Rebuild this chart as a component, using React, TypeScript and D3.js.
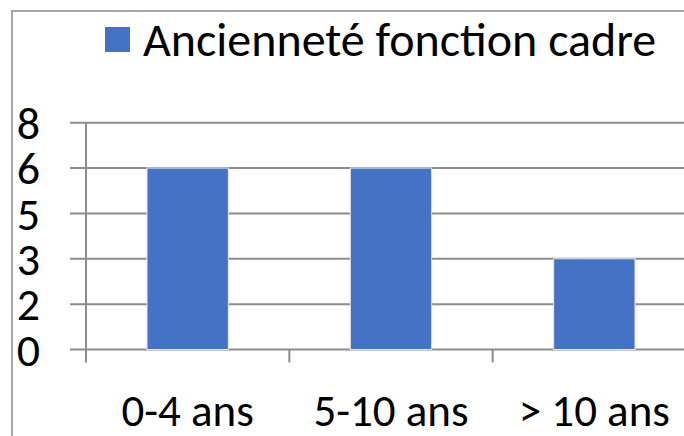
import React, { useRef, useEffect } from "react";
import * as d3 from "d3";

const categories = ["0-4 ans", "5-10 ans", "> 10 ans"];
const values = [6, 6, 3];
const yTicks = [0, 1.5, 3, 4.5, 6, 7.5];
const seriesName = "Ancienneté fonction cadre";

const App = () => {
  const svgRef = useRef<SVGSVGElement>(null);

  useEffect(() => {
    const width = 684;
    const height = 436;
    const font = "Carlito, Calibri, Lato, sans-serif";

    const svg = d3.select(svgRef.current).attr("width", width).attr("height", height);
    svg.selectAll("*").remove();

    svg.append("rect").attr("width", width).attr("height", height).attr("fill", "white");

    // cadre du graphique (coupé à droite et en bas)
    svg
      .append("path")
      .attr("d", `M12,${height} V11 H${width}`)
      .attr("fill", "none")
      .attr("stroke", "#a6a6a6")
      .attr("stroke-width", 2);

    const x = d3.scaleBand().domain(categories).range([86, 696]).padding(0);
    const y = d3.scaleLinear().domain([0, 7.5]).range([349.5, 122.7]);

    // grille + graduations de l'axe Y
    svg
      .selectAll(".grid")
      .data(yTicks)
      .enter()
      .append("line")
      .attr("x1", 70)
      .attr("x2", width)
      .attr("y1", (d) => y(d))
      .attr("y2", (d) => y(d))
      .attr("stroke", "#8c8c8c")
      .attr("stroke-width", 2);

    // axe Y vertical
    svg
      .append("line")
      .attr("x1", x.range()[0])
      .attr("x2", x.range()[0])
      .attr("y1", y(7.5))
      .attr("y2", y(0) + 13)
      .attr("stroke", "#8c8c8c")
      .attr("stroke-width", 2);

    // graduations de l'axe X
    svg
      .selectAll(".xtick")
      .data(categories.slice(1))
      .enter()
      .append("line")
      .attr("x1", (d) => x(d)!)
      .attr("x2", (d) => x(d)!)
      .attr("y1", y(0))
      .attr("y2", y(0) + 13)
      .attr("stroke", "#8c8c8c")
      .attr("stroke-width", 2);

    // barres
    const bw = x.bandwidth() * 0.4;
    svg
      .selectAll(".bar")
      .data(values)
      .enter()
      .append("rect")
      .attr("x", (d, i) => x(categories[i])! + (x.bandwidth() - bw) / 2)
      .attr("y", (d) => y(d))
      .attr("width", bw)
      .attr("height", (d) => y(0) - y(d))
      .attr("fill", "#4472c4")
      .attr("stroke", "#e4e8ef")
      .attr("stroke-width", 1);

    // libellés Y
    svg
      .selectAll(".ylab")
      .data(yTicks)
      .enter()
      .append("text")
      .attr("x", 40)
      .attr("y", (d) => y(d))
      .attr("dy", "0.35em")
      .attr("text-anchor", "end")
      .attr("font-family", font)
      .attr("font-size", 46)
      .attr("fill", "#000")
      .text((d) => d3.format(".0f")(Math.round(d)));

    // libellés X
    svg
      .selectAll(".xlab")
      .data(categories)
      .enter()
      .append("text")
      .attr("x", (d) => x(d)! + x.bandwidth() / 2)
      .attr("y", 426)
      .attr("text-anchor", "middle")
      .attr("font-family", font)
      .attr("font-size", 45)
      .attr("fill", "#000")
      .text((d) => d);

    // légende
    svg
      .append("rect")
      .attr("x", 105)
      .attr("y", 27)
      .attr("width", 25)
      .attr("height", 25)
      .attr("fill", "#4472c4");
    svg
      .append("text")
      .attr("x", 143)
      .attr("y", 56)
      .attr("font-family", font)
      .attr("font-size", 48)
      .attr("fill", "#000")
      .text(seriesName);
  }, []);

  return (
    <svg
      ref={svgRef}
      style={{ position: "absolute", left: 0, top: 0, display: "block" }}
    ></svg>
  );
};

export default App;
